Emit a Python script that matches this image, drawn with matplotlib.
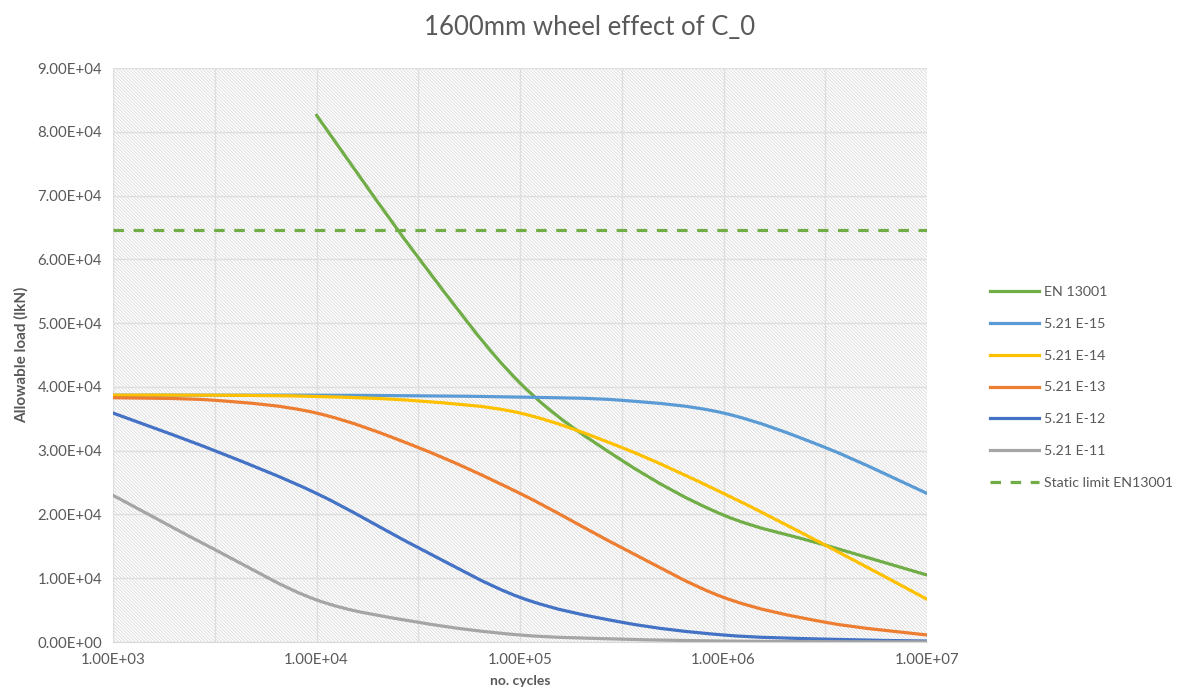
import numpy as np
import matplotlib
matplotlib.use('Agg')
import matplotlib.pyplot as plt
from matplotlib.path import Path
from matplotlib.patches import PathPatch, Rectangle
from matplotlib.lines import Line2D
from matplotlib.ticker import FixedLocator, FuncFormatter

plt.rcParams['font.family'] = ['Lato', 'DejaVu Sans']
plt.rcParams['hatch.linewidth'] = 0.45
plt.rcParams['hatch.color'] = '#cfcfcf'

# number of cycles (half-decade steps)
cycles = [1e3, 3.16e3, 1e4, 3.16e4, 1e5, 3.16e5, 1e6, 3.16e6, 1e7]
cycles_en = [1e4, 3.16e4, 1e5, 3.16e5, 1e6, 3.16e6, 1e7]

en13001 = [82600, 60300, 40600, 28500, 19900, 15200, 10500]
e15 = [38700, 38700, 38700, 38600, 38400, 37900, 35900, 30500, 23300]
e14 = [38700, 38700, 38500, 37800, 35900, 30500, 23300, 15200, 6700]
e13 = [38300, 37900, 35900, 30500, 23300, 14800, 7000, 3100, 1100]
e12 = [35900, 30000, 23300, 14800, 7000, 3100, 1100, 450, 150]
e11 = [23000, 14500, 6600, 3100, 1100, 450, 150, 50, 20]
static_limit = 64600

labels = ['EN 13001', '5.21 E-15', '5.21 E-14', '5.21 E-13', '5.21 E-12', '5.21 E-11']
colors = ['#70AD47', '#5B9BD5', '#FFC000', '#ED7D31', '#4472C4', '#A5A5A5']
TXT = '#595959'


def smooth_path(xs, ys):
    # Excel-like smoothed line: cubic Bezier through points in (log x, y) space
    lx = np.log10(xs)
    y = np.asarray(ys, dtype=float)
    n = len(lx)
    verts = [(xs[0], y[0])]
    codes = [Path.MOVETO]
    for i in range(n - 1):
        p0 = max(i - 1, 0)
        p3 = min(i + 2, n - 1)
        c1x = lx[i] + (lx[i + 1] - lx[p0]) / 6
        c1y = y[i] + (y[i + 1] - y[p0]) / 6
        c2x = lx[i + 1] - (lx[p3] - lx[i]) / 6
        c2y = y[i + 1] - (y[p3] - y[i]) / 6
        verts += [(10 ** c1x, c1y), (10 ** c2x, c2y), (xs[i + 1], y[i + 1])]
        codes += [Path.CURVE4] * 3
    return Path(verts, codes)


fig = plt.figure(figsize=(11.8, 6.97), dpi=100)
ax = fig.add_axes([0.0958, 0.0789, 0.6898, 0.8235])
ax.set_xscale('log')
ax.set_xlim(1e3, 1e7)
ax.set_ylim(0, 90000)

# hatched plot area
ax.add_patch(Rectangle((0, 0), 1, 1, transform=ax.transAxes, facecolor='white',
                       edgecolor='#cfcfcf', hatch='\\' * 10, linewidth=0, zorder=0))

series = [en13001, e15, e14, e13, e12, e11]
for i, (vals, col) in enumerate(zip(series, colors)):
    xs = cycles_en if i == 0 else cycles
    ax.add_patch(PathPatch(smooth_path(xs, vals), fill=False, edgecolor=col,
                           linewidth=2.3, capstyle='round', joinstyle='round', zorder=3))

ax.axhline(static_limit, color='#70AD47', linewidth=2.3, dashes=(3.3, 3.0), zorder=3)

# ticks and grid
ax.xaxis.set_major_locator(FixedLocator([1e3, 1e4, 1e5, 1e6, 1e7]))
ax.xaxis.set_minor_locator(FixedLocator([3.162e3, 3.162e4, 3.162e5, 3.162e6]))
ax.xaxis.set_minor_formatter(FuncFormatter(lambda v, p: ''))
ax.xaxis.set_major_formatter(FuncFormatter(lambda v, p: f'{v:.2E}'))
ax.set_yticks(np.arange(0, 90001, 10000))
ax.yaxis.set_major_formatter(FuncFormatter(lambda v, p: f'{v:.2E}'))
ax.grid(True, which='both', color='#dedede', linewidth=1.0, zorder=1)
ax.set_axisbelow(True)
ax.tick_params(which='both', length=0, labelsize=10.8, colors=TXT, pad=8)
for s in ['top', 'right', 'left']:
    ax.spines[s].set_visible(False)
ax.spines['bottom'].set_color('#d9d9d9')

ax.set_xlabel('no. cycles', fontsize=10, fontweight='bold', color=TXT, labelpad=6)
ax.set_ylabel('Allowable load (lkN)', fontsize=11, fontweight='bold', color=TXT, labelpad=6)
fig.text(0.5, 0.96, '1600mm wheel effect of C_0', ha='center', va='center',
         fontsize=18.5, color=TXT)

handles = [Line2D([], [], color=c, linewidth=2.3) for c in colors]
handles.append(Line2D([], [], color='#70AD47', linewidth=2.3, dashes=(3.3, 3.0)))
leg = fig.legend(handles, labels + ['Static limit EN13001'], loc='upper left',
                 bbox_to_anchor=(0.828, 0.608), frameon=False, fontsize=10.2,
                 handlelength=3.5, labelspacing=1.4, handletextpad=0.3)
for t in leg.get_texts():
    t.set_color(TXT)

fig.savefig('out.png', dpi=100)
